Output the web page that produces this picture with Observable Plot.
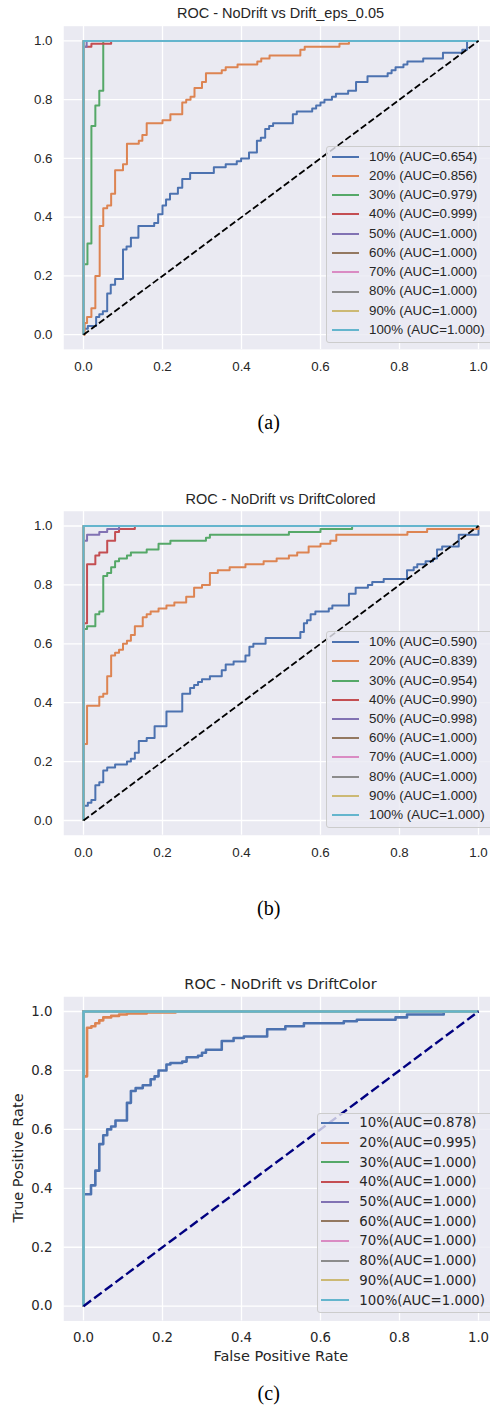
<!DOCTYPE html>
<html>
<head>
<meta charset="utf-8">
<script src="https://cdn.jsdelivr.net/npm/d3@7"></script>
<script src="https://cdn.jsdelivr.net/npm/@observablehq/plot@0.6"></script>
<style>
  html, body { margin: 0; padding: 0; background: #fff; }
  #root { position: relative; width: 490px; height: 1407px; overflow: hidden; background: #fff; }
  .abs { position: absolute; white-space: nowrap; }
  .legend { position: absolute; box-sizing: border-box; border: 1px solid #cccccc; border-radius: 3px; background: rgba(234,234,242,0.8); }
  .row { position: absolute; left: 0; display: flex; align-items: center; }
  svg { overflow: hidden; }
</style>
</head>
<body>
<div id="root"></div>
<script>
// ---------- data ----------
const ticks = [0, 0.2, 0.4, 0.6, 0.8, 1.0];
const rates = ["10%", "20%", "30%", "40%", "50%", "60%", "70%", "80%", "90%", "100%"];
const palette = ["#4c72b0", "#dd8452", "#55a868", "#c44e52", "#8172b3", "#937860", "#da8bc3", "#8c8c8c", "#ccb974", "#64b5cd"];

const titleA = "ROC - NoDrift vs Drift_eps_0.05";
const titleB = "ROC - NoDrift vs DriftColored";
const titleC = "ROC - NoDrift vs DriftColor";
const captions = ["(a)", "(b)", "(c)"];
const xLabelC = "False Positive Rate";
const yLabelC = "True Positive Rate";

const aucA = [0.654, 0.856, 0.979, 0.999, 1.000, 1.000, 1.000, 1.000, 1.000, 1.000];
const aucB = [0.590, 0.839, 0.954, 0.990, 0.998, 1.000, 1.000, 1.000, 1.000, 1.000];
const aucC = [0.878, 0.995, 1.000, 1.000, 1.000, 1.000, 1.000, 1.000, 1.000, 1.000];

const diagonal = [[0, 0], [1, 1]];
const perfect = [[0, 0], [0, 1], [1, 1]];

// panel (a) ROC points [fpr, tpr] (step after)
const a10 = [[0,0],[0,0.02],[0.011,0.03],[0.032,0.06],[0.04,0.07],[0.049,0.08],[0.06,0.14],[0.069,0.17],[0.08,0.19],[0.1,0.29],[0.109,0.30],[0.12,0.33],[0.139,0.37],[0.179,0.38],[0.189,0.41],[0.2,0.44],[0.209,0.46],[0.219,0.48],[0.239,0.50],[0.25,0.53],[0.27,0.55],[0.33,0.57],[0.36,0.58],[0.388,0.59],[0.399,0.60],[0.419,0.62],[0.439,0.66],[0.449,0.67],[0.46,0.70],[0.47,0.71],[0.48,0.72],[0.53,0.75],[0.54,0.76],[0.579,0.77],[0.589,0.78],[0.6,0.79],[0.61,0.80],[0.629,0.81],[0.639,0.82],[0.67,0.83],[0.69,0.86],[0.719,0.88],[0.77,0.89],[0.78,0.90],[0.79,0.91],[0.81,0.92],[0.82,0.93],[0.86,0.94],[0.91,0.96],[0.959,0.97],[0.971,1.0],[1,1]];
const a20 = [[0,0],[0.003,0.04],[0.009,0.06],[0.02,0.09],[0.03,0.20],[0.041,0.37],[0.05,0.43],[0.06,0.44],[0.07,0.48],[0.08,0.56],[0.1,0.58],[0.11,0.65],[0.14,0.66],[0.149,0.68],[0.16,0.72],[0.2,0.73],[0.22,0.75],[0.25,0.79],[0.26,0.80],[0.271,0.81],[0.281,0.84],[0.30,0.86],[0.31,0.89],[0.35,0.90],[0.36,0.91],[0.39,0.92],[0.44,0.93],[0.45,0.94],[0.471,0.95],[0.549,0.97],[0.56,0.98],[0.648,0.99],[0.672,1.0],[1,1]];
const a30 = [[0,0],[0,0.24],[0.01,0.31],[0.02,0.71],[0.03,0.78],[0.04,0.83],[0.05,1.0],[1,1]];
const a40 = [[0,0],[0,0.98],[0.02,0.99],[0.07,1.0],[1,1]];
const a50 = [[0,0],[0,0.98],[0.008,1.0],[1,1]];

// panel (b)
const b10 = [[0,0],[0,0.05],[0.011,0.06],[0.02,0.07],[0.03,0.12],[0.04,0.13],[0.05,0.17],[0.06,0.18],[0.08,0.19],[0.11,0.20],[0.12,0.21],[0.13,0.23],[0.14,0.27],[0.16,0.28],[0.18,0.32],[0.21,0.37],[0.25,0.43],[0.27,0.45],[0.28,0.46],[0.29,0.47],[0.30,0.48],[0.32,0.49],[0.35,0.51],[0.36,0.53],[0.38,0.54],[0.41,0.56],[0.42,0.59],[0.43,0.60],[0.461,0.62],[0.549,0.64],[0.558,0.67],[0.566,0.68],[0.575,0.70],[0.587,0.71],[0.621,0.72],[0.63,0.73],[0.672,0.77],[0.689,0.79],[0.72,0.80],[0.731,0.81],[0.76,0.82],[0.819,0.85],[0.836,0.86],[0.845,0.87],[0.866,0.88],[0.885,0.89],[0.895,0.92],[0.908,0.93],[0.95,0.97],[1,1]];
const b20 = [[0,0],[0,0.26],[0.009,0.39],[0.04,0.42],[0.05,0.43],[0.06,0.49],[0.07,0.56],[0.08,0.57],[0.09,0.58],[0.10,0.60],[0.11,0.61],[0.12,0.63],[0.13,0.66],[0.15,0.69],[0.16,0.70],[0.17,0.71],[0.19,0.72],[0.21,0.73],[0.23,0.74],[0.26,0.76],[0.28,0.79],[0.30,0.80],[0.32,0.84],[0.34,0.85],[0.37,0.86],[0.41,0.87],[0.456,0.88],[0.489,0.89],[0.52,0.90],[0.541,0.91],[0.57,0.93],[0.60,0.94],[0.625,0.95],[0.64,0.97],[0.82,0.98],[0.87,0.99],[1,1]];
const b30 = [[0,0],[0,0.65],[0.009,0.66],[0.03,0.70],[0.04,0.71],[0.05,0.83],[0.06,0.84],[0.07,0.86],[0.08,0.88],[0.09,0.89],[0.11,0.90],[0.12,0.91],[0.16,0.92],[0.19,0.94],[0.22,0.95],[0.31,0.96],[0.32,0.97],[0.52,0.98],[0.60,0.99],[0.68,1.0],[1,1]];
const b40 = [[0,0],[0,0.67],[0.009,0.87],[0.03,0.90],[0.04,0.91],[0.06,0.95],[0.08,0.98],[0.09,0.99],[0.13,1.0],[1,1]];
const b50 = [[0,0],[0,0.95],[0.009,0.97],[0.04,0.98],[0.06,0.99],[0.09,1.0],[1,1]];

// panel (c)
const c10 = [[0,0],[0,0.38],[0.019,0.41],[0.03,0.46],[0.04,0.55],[0.05,0.58],[0.06,0.60],[0.07,0.61],[0.081,0.63],[0.11,0.69],[0.12,0.73],[0.132,0.74],[0.15,0.75],[0.17,0.77],[0.18,0.78],[0.19,0.80],[0.21,0.82],[0.22,0.825],[0.25,0.83],[0.261,0.845],[0.29,0.85],[0.30,0.86],[0.31,0.87],[0.35,0.90],[0.38,0.91],[0.406,0.915],[0.465,0.94],[0.511,0.95],[0.558,0.96],[0.659,0.967],[0.692,0.972],[0.79,0.98],[0.819,0.99],[0.912,1.0],[1,1]];
const c20 = [[0,0],[0,0.78],[0.009,0.945],[0.02,0.95],[0.03,0.96],[0.04,0.97],[0.05,0.98],[0.07,0.985],[0.09,0.99],[0.11,0.993],[0.16,0.997],[0.233,1.0],[1,1]];

const curvesA = [a10, a20, a30, a40, a50, perfect, perfect, perfect, perfect, perfect];
const curvesB = [b10, b20, b30, b40, b50, perfect, perfect, perfect, perfect, perfect];
const curvesC = [c10, c20, perfect, perfect, perfect, perfect, perfect, perfect, perfect, perfect];

// ---------- drawing ----------
const root = document.getElementById("root");
const TEXT = "#262626";

function addText(txt, css) {
  const d = document.createElement("div");
  d.className = "abs";
  d.textContent = txt;
  Object.assign(d.style, css);
  root.appendChild(d);
  return d;
}

function panel(cfg) {
  const per = cfg.y0 - cfg.y1;
  const marginTop = cfg.y1 - 0.05 * per;
  const marginBottom = cfg.svgH - (cfg.y0 + 0.05 * per);
  const table = rates.flatMap((r, i) => cfg.curves[i].map(([x, y]) => ({rate: r, x, y})));
  const chart = Plot.plot({
    width: 490,
    height: cfg.svgH,
    marginLeft: 63.25,
    marginRight: 0,
    marginTop,
    marginBottom,
    x: {domain: [-0.05, (490 - 83) / 395]},
    y: {domain: [-0.05, 1.05]},
    color: {domain: rates, range: palette},
    style: {fontFamily: cfg.font, fontSize: "13.3px", color: TEXT, background: "transparent", overflow: "hidden"},
    marks: [
      Plot.frame({fill: "#eaeaf2", stroke: "none"}),
      Plot.ruleX(ticks, {x: d => d, stroke: "white", strokeWidth: 1.3}),
      Plot.ruleY(ticks, {y: d => d, stroke: "white", strokeWidth: 1.3}),
      Plot.axisX(ticks, {tickSize: 0, tickPadding: 12, tickFormat: d3.format(".1f"), fontSize: 13.3, label: null, fill: TEXT}),
      Plot.axisY(ticks, {tickSize: 0, tickPadding: 11.25, tickFormat: d3.format(".1f"), fontSize: 13.3, label: null, fill: TEXT}),
      Plot.line(table, {x: "x", y: "y", z: "rate", stroke: "rate", curve: "step-after", strokeWidth: cfg.lw, strokeLinecap: "butt", strokeLinejoin: "round"}),
      Plot.line(diagonal, {x: d => d[0], y: d => d[1], stroke: cfg.diagColor, strokeWidth: cfg.diagW, strokeDasharray: cfg.diagDash, strokeLinecap: "butt"})
    ]
  });
  chart.style.position = "absolute";
  chart.style.left = "0px";
  chart.style.top = cfg.top + "px";
  root.appendChild(chart);

  // title
  addText(cfg.title, {left: "0px", width: (2 * 280.5) + "px", textAlign: "center",
    top: (cfg.titleY - 0.49 * 14.5) + "px", fontFamily: cfg.font, fontSize: "14.5px", lineHeight: "14.5px", color: TEXT});

  // legend
  const L = cfg.legend;
  const box = document.createElement("div");
  box.className = "legend";
  Object.assign(box.style, {left: L.left + "px", top: L.top + "px", width: "200px", height: L.height + "px"});
  rates.forEach((r, i) => {
    const row = document.createElement("div");
    row.className = "row";
    Object.assign(row.style, {top: (L.first + i * L.spacing - L.spacing / 2 - 1) + "px", height: L.spacing + "px", width: "200px"});
    const ln = document.createElement("span");
    Object.assign(ln.style, {position: "absolute", left: (L.lineX - 1) + "px", width: L.lineW + "px", height: "0px", top: (L.spacing / 2 - L.lw / 2) + "px", borderTop: L.lw + "px solid " + palette[i]});
    const tx = document.createElement("span");
    tx.textContent = r + cfg.sep + "(AUC=" + cfg.auc[i].toFixed(3) + ")";
    Object.assign(tx.style, {position: "absolute", left: (L.textX - 1) + "px", top: (L.spacing / 2 - 0.49 * 13.3 - 0.5) + "px", fontFamily: cfg.font, fontSize: "13.3px", lineHeight: "13.3px", color: TEXT, whiteSpace: "nowrap"});
    row.appendChild(ln);
    row.appendChild(tx);
    box.appendChild(row);
  });
  root.appendChild(box);

  // caption
  addText(cfg.caption, {left: "0px", width: (2 * 268.7) + "px", textAlign: "center",
    top: (cfg.captionY - 0.58 * 20) + "px", fontFamily: "'Liberation Serif', 'Times New Roman', serif", fontSize: "20px", lineHeight: "20px", color: "#000"});
}

panel({
  top: 0, svgH: 400, y1: 40.4, y0: 334.2, curves: curvesA, auc: aucA, sep: " ",
  title: titleA, titleY: 13.5, caption: captions[0], captionY: 424,
  font: "'Liberation Sans', Arial, sans-serif", lw: 2,
  diagColor: "black", diagW: 1.8, diagDash: "6.7,2.9",
  legend: {left: 326, top: 146, height: 196.5, first: 10.7, spacing: 19.26, lineX: 5.7, lineW: 27.6, textX: 43, lw: 2}
});

panel({
  top: 470, svgH: 410, y1: 55.5, y0: 350, curves: curvesB, auc: aucB, sep: " ",
  title: titleB, titleY: 499, caption: captions[1], captionY: 910,
  font: "'Liberation Sans', Arial, sans-serif", lw: 2,
  diagColor: "black", diagW: 1.8, diagDash: "6.7,2.9",
  legend: {left: 326, top: 631, height: 196.7, first: 11.3, spacing: 19.2, lineX: 5.7, lineW: 27.6, textX: 43, lw: 2}
});

panel({
  top: 930, svgH: 420, y1: 81, y0: 375.7, curves: curvesC, auc: aucC, sep: "",
  title: titleC, titleY: 984, caption: captions[2], captionY: 1395,
  font: "'DejaVu Sans', sans-serif", lw: 2.6,
  diagColor: "#000080", diagW: 2.4, diagDash: "9.4,3.9",
  legend: {left: 316.7, top: 1113.3, height: 200, first: 10, spacing: 19.7, lineX: 4.3, lineW: 28.3, textX: 42.6, lw: 2.8}
});

// axis labels of panel (c)
addText(xLabelC, {left: "0px", width: (2 * 280.8) + "px", textAlign: "center",
  top: (1355.7 - 0.49 * 14.5) + "px", fontFamily: "'DejaVu Sans', sans-serif", fontSize: "14.5px", lineHeight: "14.5px", color: TEXT});
const yl = addText(yLabelC, {left: (17.7 - 100) + "px", width: "200px", textAlign: "center",
  top: (1158 - 0.49 * 14.5) + "px", fontFamily: "'DejaVu Sans', sans-serif", fontSize: "14.5px", lineHeight: "14.5px", color: TEXT});
yl.style.transform = "rotate(-90deg)";
yl.style.transformOrigin = "50% 48%";
</script>
</body>
</html>
